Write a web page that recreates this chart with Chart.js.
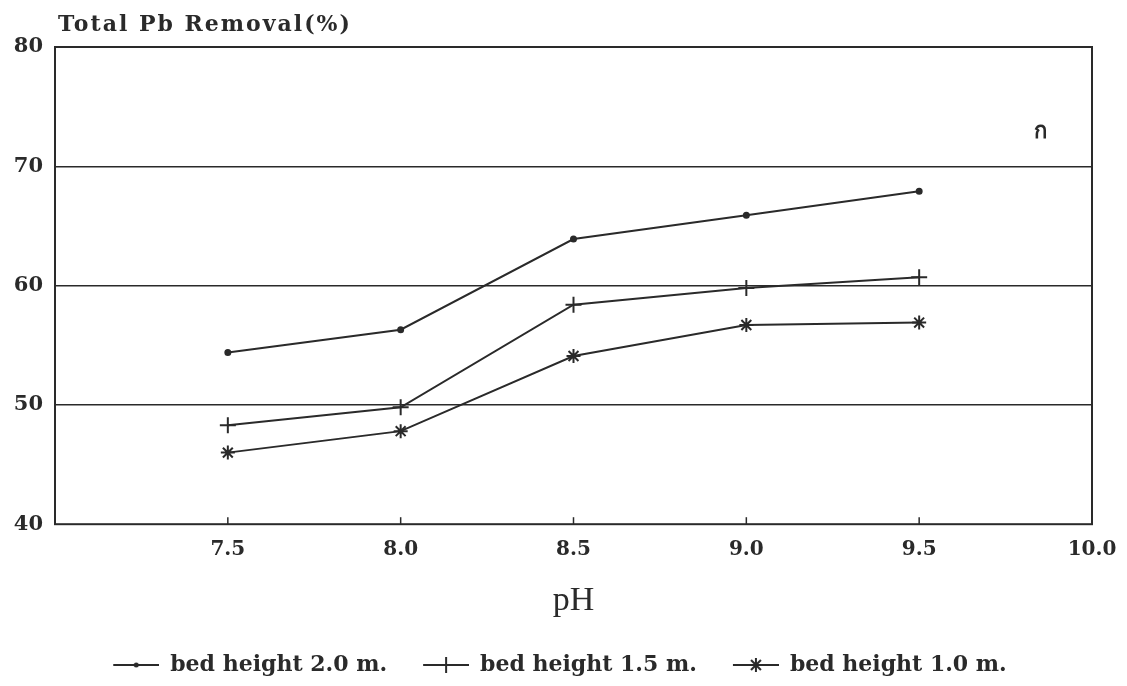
<!DOCTYPE html>
<html>
<head>
<meta charset="utf-8">
<script src="https://cdn.jsdelivr.net/npm/chart.js@4"></script>
<style>
  html, body { margin: 0; padding: 0; background: #fff; }
  #wrap { width: 1127px; height: 686px; }
</style>
</head>
<body>
<div id="wrap"><canvas id="chart" width="1127" height="686"></canvas></div>
<script>
// pH values on the x axis
const phValues = [7.5, 8.0, 8.5, 9.0, 9.5];

// Total Pb removal (%) for each bed height
const bed20 = [54.4, 56.3, 63.9, 65.9, 67.9];
const bed15 = [48.3, 49.8, 58.4, 59.8, 60.7];
const bed10 = [46.0, 47.8, 54.1, 56.7, 56.9];

const seriesLabels = ["bed height 2.0 m.", "bed height 1.5 m.", "bed height 1.0 m."];
const yTicks = [40, 50, 60, 70, 80];
const xTicks = [7.5, 8.0, 8.5, 9.0, 9.5, 10.0];

const ink = "#2a2a2a";
const serif = "'DejaVu Serif', 'Liberation Serif', serif";

const toPoints = (vals) => vals.map((v, i) => ({ x: phValues[i], y: v }));

// legend sample: short line with the marker in the middle
// (blank strip on the left keeps the items apart)
function legendSample(style) {
  const c = document.createElement("canvas");
  c.width = 74;
  c.height = 22;
  const g = c.getContext("2d");
  g.strokeStyle = ink;
  g.fillStyle = ink;
  g.lineWidth = 2;
  g.beginPath();
  g.moveTo(28, 11);
  g.lineTo(74, 11);
  g.stroke();
  const cx = 51, cy = 11;
  if (style === "dot") {
    g.beginPath();
    g.arc(cx, cy, 2.5, 0, Math.PI * 2);
    g.fill();
  } else if (style === "cross") {
    g.beginPath();
    g.moveTo(cx, cy - 8);
    g.lineTo(cx, cy + 8);
    g.stroke();
  } else {
    for (let k = 0; k < 4; k++) {
      const a = (k * Math.PI) / 4;
      g.beginPath();
      g.moveTo(cx - 7 * Math.cos(a), cy - 7 * Math.sin(a));
      g.lineTo(cx + 7 * Math.cos(a), cy + 7 * Math.sin(a));
      g.stroke();
    }
  }
  return c;
}
const samples = [legendSample("dot"), legendSample("cross"), legendSample("star")];

// box, inward x ticks, title and the small Thai mark
const framePlugin = {
  id: "frame",
  afterDraw(chart) {
    const { ctx, chartArea: a, scales } = chart;
    ctx.save();
    ctx.strokeStyle = ink;
    ctx.lineWidth = 2;
    ctx.strokeRect(a.left, a.top, a.right - a.left, a.bottom - a.top);
    ctx.lineWidth = 1.5;
    xTicks.forEach((t) => {
      if (t >= scales.x.max) return;
      const px = scales.x.getPixelForValue(t);
      ctx.beginPath();
      ctx.moveTo(px, a.bottom);
      ctx.lineTo(px, a.bottom - 7);
      ctx.stroke();
    });
    ctx.fillStyle = ink;
    ctx.font = "bold 22px " + serif;
    ctx.letterSpacing = "2px";
    ctx.textBaseline = "alphabetic";
    ctx.textAlign = "left";
    ctx.fillText("Total Pb Removal(%)", a.left + 3, 31);
    ctx.letterSpacing = "0px";
    ctx.font = "bold 22px 'DejaVu Sans', 'Noto Sans', sans-serif";
    ctx.textAlign = "center";
    ctx.fillText("ก", scales.x.getPixelForValue(9.85), scales.y.getPixelForValue(72.4));
    ctx.restore();
  },
};

const markerStyles = ["circle", "cross", "star"];
const markerRadius = [2.5, 8, 7];

new Chart(document.getElementById("chart"), {
  type: "line",
  data: {
    datasets: [bed20, bed15, bed10].map((vals, i) => ({
      label: seriesLabels[i],
      data: toPoints(vals),
      borderColor: ink,
      backgroundColor: ink,
      borderWidth: 2,
      pointStyle: markerStyles[i],
      pointRadius: markerRadius[i],
      pointBorderWidth: 2,
      pointBorderColor: ink,
      pointBackgroundColor: ink,
      tension: 0,
    })),
  },
  options: {
    responsive: false,
    animation: false,
    layout: { padding: { top: 47, left: 0, right: 35, bottom: 0 } },
    scales: {
      x: {
        type: "linear",
        min: 7,
        max: 10,
        afterBuildTicks: (s) => { s.ticks = xTicks.map((v) => ({ value: v })); },
        afterFit: (s) => { s.paddingRight = 0; s.paddingLeft = 0; },
        ticks: {
          color: ink,
          font: { family: serif, size: 20, weight: "bold" },
          padding: 14,
          maxRotation: 0,
          callback: (v) => Number(v).toFixed(1),
        },
        grid: { display: false, drawTicks: false },
        border: { display: false },
        title: {
          display: true,
          text: "pH",
          color: ink,
          font: { family: "'Liberation Serif', serif", size: 34 },
          padding: { top: 4, bottom: 25 },
        },
      },
      y: {
        min: 40,
        max: 80,
        afterBuildTicks: (s) => { s.ticks = yTicks.map((v) => ({ value: v })); },
        afterFit: (s) => { s.width = 55; },
        ticks: {
          color: ink,
          font: { family: serif, size: 21, weight: "bold" },
          padding: 12,
        },
        grid: {
          drawTicks: false,
          color: ink,
          lineWidth: (c) => (c.tick && c.tick.value > 40 && c.tick.value < 80 ? 1.5 : 0),
        },
        border: { display: false },
      },
    },
    plugins: {
      legend: {
        position: "bottom",
        labels: {
          usePointStyle: true,
          pointStyleWidth: 74,
          color: ink,
          font: { family: serif, size: 22, weight: "bold" },
          padding: 8,
          generateLabels: (chart) =>
            chart.data.datasets.map((d, i) => ({
              text: d.label,
              pointStyle: samples[i],
              fontColor: ink,
              strokeStyle: ink,
              fillStyle: ink,
              lineWidth: 0,
              hidden: false,
              datasetIndex: i,
            })),
        },
      },
      tooltip: { enabled: false },
    },
  },
  plugins: [framePlugin],
});
</script>
</body>
</html>
